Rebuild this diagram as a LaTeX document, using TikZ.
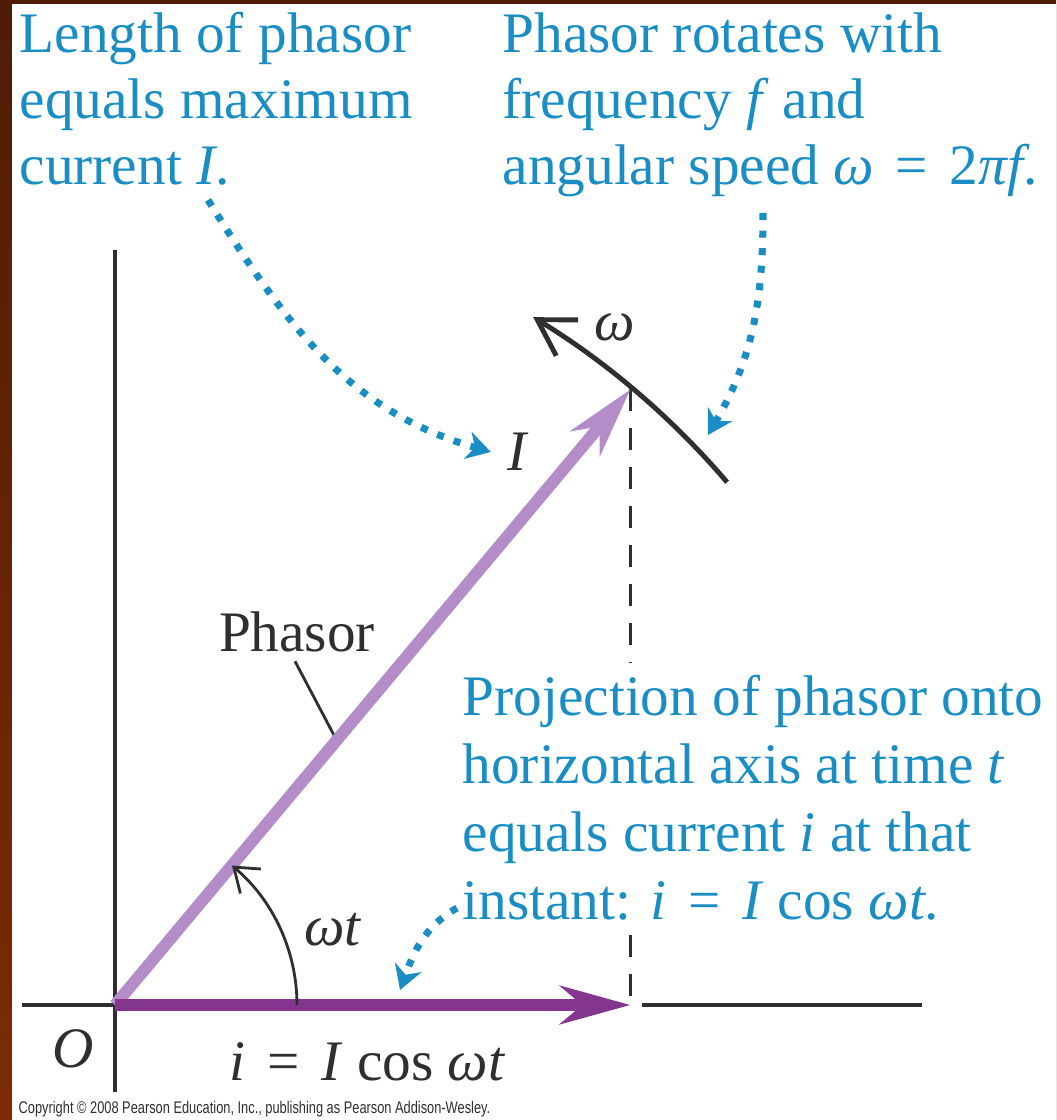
\documentclass[tikz,border=0pt]{standalone}
\usepackage{fontspec}
\usepackage{graphicx}
\setmainfont{Liberation Serif}
\newfontfamily\copyfont{Liberation Sans}
\usetikzlibrary{arrows.meta,calc}

\definecolor{capblue}{HTML}{1A8EC4}
\definecolor{inkgray}{HTML}{2F2F2F}
\definecolor{phasorlight}{HTML}{B48CC8}
\definecolor{phasordark}{HTML}{84368F}
\definecolor{slidetop}{HTML}{4E1C06}
\definecolor{slidebot}{HTML}{7C2C02}
\newcommand{\eqsign}{\hspace{0.38em}=\hspace{0.38em}}

\begin{document}
\begin{tikzpicture}[
    note/.style={font=\fontsize{16.3}{18.9}\selectfont, text=capblue, align=left, inner sep=0pt, anchor=base west},
    lbl/.style={font=\fontsize{16.3}{19.0}\selectfont, text=inkgray, inner sep=0pt},
    cue/.style={capblue, line width=2pt, dash pattern=on 2pt off 3pt, -{Stealth[length=2.4mm,width=2.8mm]}},
    axis/.style={inkgray, line width=0.9pt},
    vec/.style={line width=3.4pt, -{Stealth[length=7mm,width=3.8mm,inset=2.2mm]}}
  ]
    % slide frame
    \shade[top color=slidetop, bottom color=slidebot] (-1.15,-1.15) rectangle (9.41,10.05);
    \fill[white] (-1.03,-1.15) rectangle (9.41,10.01);
    \useasboundingbox (-1.15,-1.15) rectangle (9.41,10.05);

    % Captions (anchored on their last line)
    \node[note] (capLength) at (-0.96,8.20) {Length of phasor\\equals maximum\\current \textit{I}.};
    \node[note] (capRotate) at (3.87,8.20) {Phasor rotates with\\frequency \textit{f} and\\angular speed \textit{ω}\eqsign 2\textit{πf}.};

    % Axes
    \coordinate (O) at (0,0);
    \coordinate (P) at (50.06:8.03);
    \coordinate (Px) at (P |- O);
    \draw[axis] (0,7.55) -- (0,-0.87);
    \draw[axis] (-0.93,0) -- (O);
    \draw[axis] ($(Px)+(0.11,0)$) -- (8.07,0);

    % Projection and phasor
    \draw[inkgray, line width=0.85pt, dash pattern=on 0.22cm off 0.17cm] (P) -- (Px);
    \node[note, font=\fontsize{16.3}{19.4}\selectfont, fill=white, inner sep=0.12cm] (capProj) at (3.35,0.85) {Projection of phasor onto\\horizontal axis at time \textit{t}\\equals current \textit{i} at that\\instant: \textit{i}\eqsign\textit{I} cos \textit{ωt}.};
    \node[lbl, anchor=base] (lblPhasor) at (1.82,3.53) {Phasor};
    \draw[inkgray, line width=0.8pt] (lblPhasor.south) ++(-0.02,-0.08) -- ($(O)!0.43!(P)$);
    \draw[vec, phasorlight] (O) -- (P);
    \draw[vec, phasordark] (O) -- (Px);

    % Rotation
    \draw[inkgray, line width=1.4pt, -{Straight Barb[length=3.5mm,width=4.2mm]}] (40.5:8.05) arc[start angle=40.5, end angle=58.7, radius=8.05];
    \node[lbl] (lblOmega) at (5.00,6.78) {\textit{ω}};
    \node[lbl, inner sep=4.5pt] (lblI) at (4.03,5.53) {\textit{I}};

    % Angle
    \draw[inkgray, line width=0.8pt, -{Straight Barb[length=2.2mm,width=3.2mm]}] (1.82,0) arc[start angle=0, end angle=50, radius=1.82];
    \node[lbl] (lblWt) at (2.18,0.75) {\textit{ωt}};

    % Bottom labels
    \node[lbl, anchor=base] (lblO) at (-0.42,-0.62) {\textit{O}};
    \node[lbl, anchor=base west] (lblCur) at (1.14,-0.75) {\textit{i}\eqsign\textit{I} cos \textit{ωt}};
    \node[anchor=base west, inner sep=0pt, text=inkgray, font=\copyfont\fontsize{4.8}{5}\selectfont] (copy) at (-0.97,-1.08) {\scalebox{0.76}[1]{Copyright © 2008 Pearson Education, Inc., publishing as Pearson Addison-Wesley.}};

    % Dotted pointers
    \coordinate (fromLength) at (0.93,8.05);
    \coordinate (fromRotate) at (6.48,7.92);
    \coordinate (onArc) at (5.93,5.70);
    \coordinate (fromProj) at (3.42,0.97);
    \coordinate (onCos) at (2.85,0.15);
    \draw[cue] (fromLength) to[out=-58,in=164] (lblI.west);
    \draw[cue] (fromRotate) to[out=-90,in=60] (onArc);
    \draw[cue] (fromProj) to[out=-150,in=70] (onCos);
  \end{tikzpicture}
\end{document}
